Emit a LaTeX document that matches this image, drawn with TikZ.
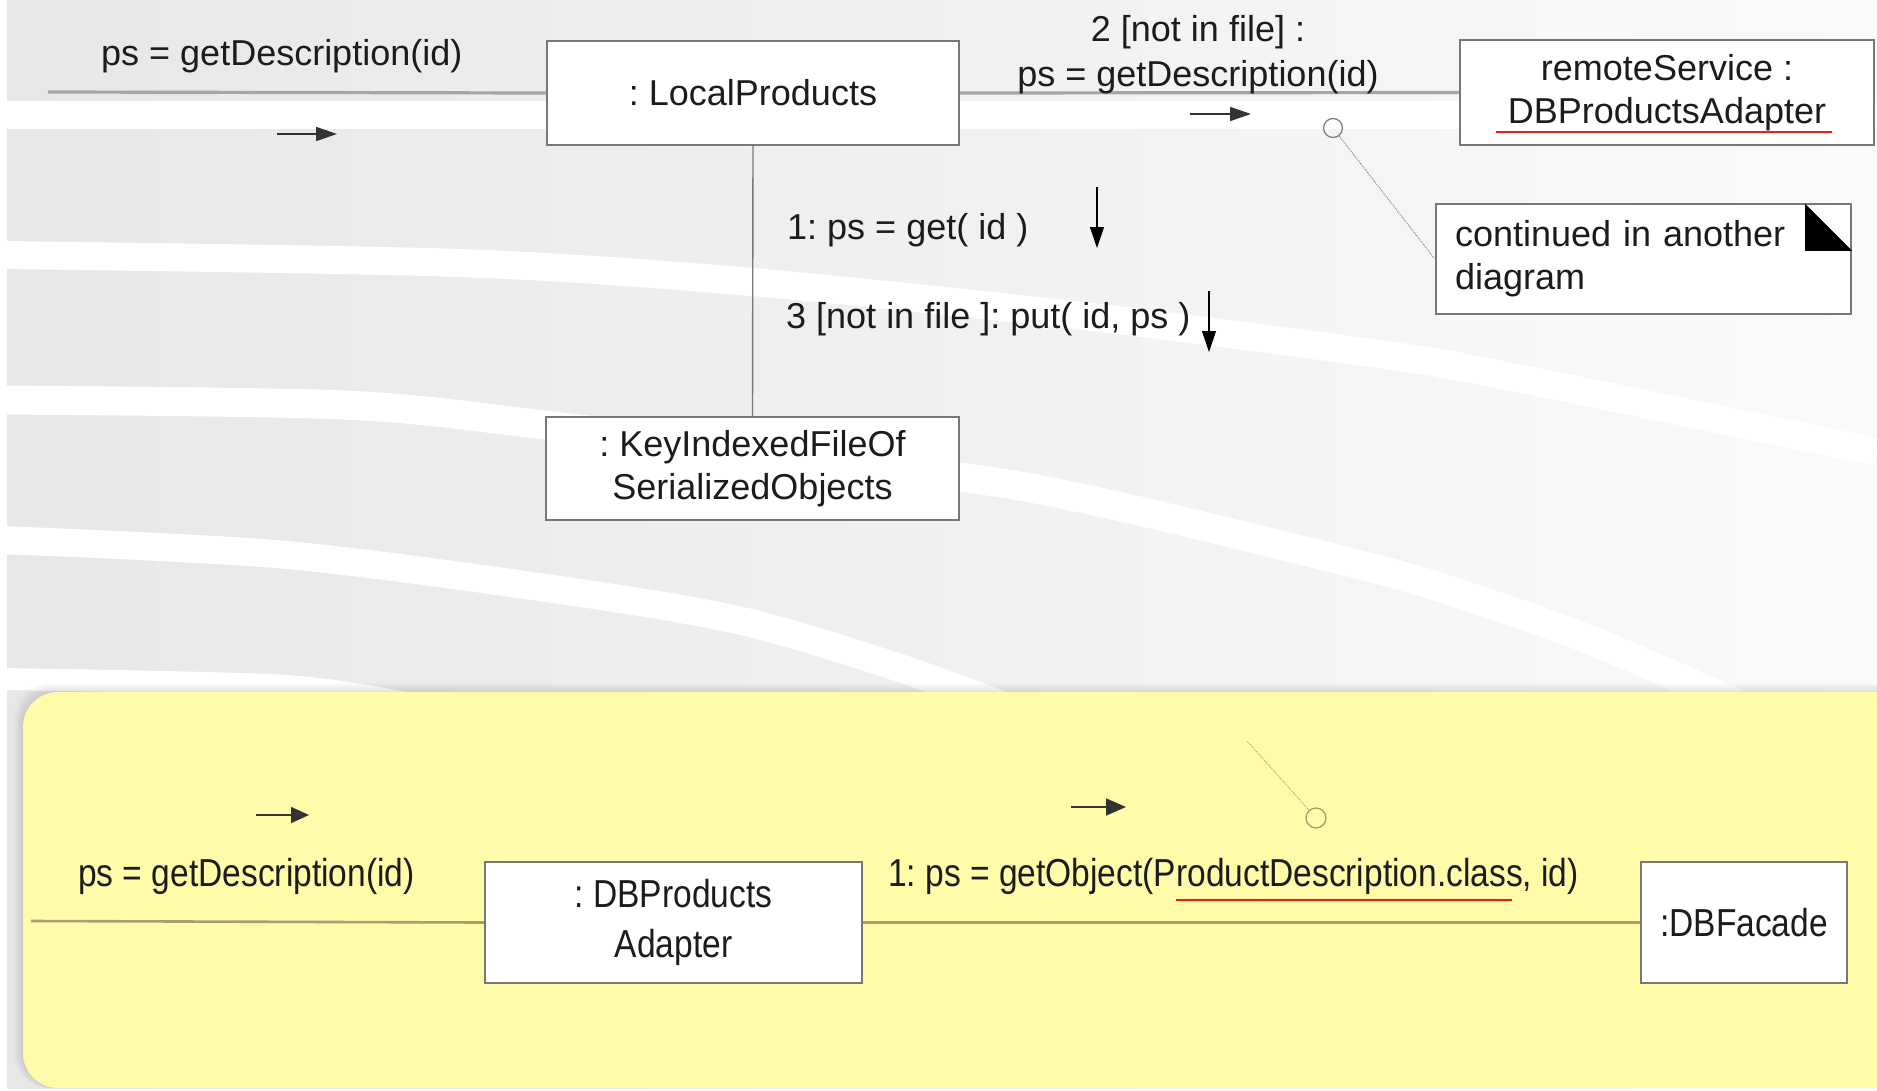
\documentclass[tikz,border=0pt]{standalone}
\usepackage{fontspec}
\setmainfont{Liberation Sans}
\newfontfamily\condfont[FakeStretch=0.86]{Liberation Sans}
\usetikzlibrary{arrows.meta,calc}
\definecolor{bgL}{RGB}{231,231,231}
\definecolor{bgR}{RGB}{250,250,250}
\definecolor{panel}{RGB}{255,251,168}
\definecolor{boxline}{RGB}{120,120,120}
\definecolor{conn}{RGB}{165,165,165}
\definecolor{yline}{RGB}{165,160,110}
\definecolor{txt}{RGB}{28,28,28}
\definecolor{ured}{RGB}{235,30,20}
\begin{document}
\frenchspacing
\begin{tikzpicture}[x=1pt,y=-1pt,
  topfont/.style={font=\fontsize{36}{43}\selectfont\frenchspacing},
  botfont/.style={font=\condfont\fontsize{39}{50}\selectfont\frenchspacing},
  objbox/.style={draw=boxline, line width=2.4pt, fill=white, inner sep=0pt, align=center, text=txt},
  lbl/.style={inner sep=0pt, text=txt},
  topconn/.style={draw=conn, line width=3.2pt},
  vconn/.style={draw=boxline, line width=1.4pt},
  yconn/.style={draw=yline, line width=2.6pt},
  msgarrow/.style={draw=black!80, line width=1.6pt, -{Triangle[length=21pt,width=14pt]}},
  downarrow/.style={draw=black, line width=1.1pt, -{Triangle[length=21pt,width=14pt]}},
  stripe/.style={draw=white, line width=28pt},
  graycircle/.style={circle, draw=gray, line width=1.3pt, minimum size=19pt, inner sep=0pt},
  olivecircle/.style={circle, draw=yline, line width=1.3pt, minimum size=20pt, inner sep=0pt},
  notelink/.style={draw=gray, line width=0.9pt, densely dotted},
  ulined/.style={draw=ured, line width=2.5pt},
]
\useasboundingbox (0,0) rectangle (1877,1090);
\fill[white] (0,0) rectangle (1877,1090);
% background
\shade[left color=bgL, right color=bgR] (7,0) rectangle (1877,1088);
\begin{scope}
  \clip (7,0) rectangle (1877,1088);
  \draw[stripe] (0,115) -- (1877,115);
  \draw[stripe] plot[smooth] coordinates {(0,255) (459,263) (752,282) (1100,318) (1400,357) (1532,381) (1877,452)};
  \draw[stripe, line width=29pt] plot[smooth] coordinates {(0,400) (344,405) (545,425) (960,477) (1099,502) (1268,542) (1423,582) (1585,638) (1740,705)};
  \draw[stripe] plot[smooth] coordinates {(0,540) (287,555) (574,592) (746,622) (900,668) (1020,712)};
  \draw[stripe, line width=22pt] plot[smooth] coordinates {(0,679) (287,686) (420,706)};
\end{scope}
% panel shadow and panel
\foreach \i in {1,...,9} {
  \fill[black, opacity=0.012, rounded corners=35pt] (23-\i,692-\i) rectangle (1940,1088);
}
\fill[panel, rounded corners=35pt] (23,692) rectangle (1940,1088);

% ---------- upper diagram ----------
\node[objbox, topfont, minimum width=412pt, minimum height=104pt] (local) at (753,93) {: LocalProducts};
\node[objbox, topfont, minimum width=413pt, minimum height=103pt] (key) at (752.5,468.5) {: KeyIndexedFileOf\\SerializedObjects};
\node[objbox, topfont, minimum width=414pt, minimum height=105pt] (remote) at (1667,92.5) {remoteService :\\DBProductsAdapter};
\node[objbox, topfont, minimum height=110pt, text width=377pt, inner xsep=19pt, align=left] (note) at (1643.5,259) {continued in another\\diagram};
\fill[black] ($(note.north east)+(-47,1)$) -- ($(note.north east)+(-47,48)$) -- ($(note.north east)+(0,48)$) -- cycle;

\coordinate (inTop) at (48,92);
\draw[topconn] (inTop) -- (local.west);
\draw[topconn] (local.east) -- (remote.west);
\draw[vconn] (local.south) -- (key.north);

\draw[ulined] (1496,132) -- (1832,132);

\node[lbl, topfont, anchor=base west] (lblA) at (101,65) {ps = getDescription(id)};
\node[lbl, topfont, anchor=base] (lblB1) at (1198,41) {2 [not in file] :};
\node[lbl, topfont, anchor=base] (lblB2) at (1198,86) {ps = getDescription(id)};
\node[lbl, topfont, anchor=base west] (lbl1) at (787,239) {1: ps = get( id )};
\node[lbl, topfont, anchor=base west] (lbl3) at (786,328) {3 [not in file ]: put( id, ps )};

\coordinate (a1s) at (277,134); \coordinate (a1e) at (337,134);
\draw[msgarrow] (a1s) -- (a1e);
\coordinate (a2s) at (1190,114); \coordinate (a2e) at (1251,114);
\draw[msgarrow] (a2s) -- (a2e);
\coordinate (d1s) at (1097,187); \coordinate (d1e) at (1097,248);
\draw[downarrow] (d1s) -- (d1e);
\coordinate (d2s) at (1209,291); \coordinate (d2e) at (1209,352);
\draw[downarrow] (d2s) -- (d2e);

\node[graycircle] (c1) at (1333,128) {};
\draw[notelink] (c1) -- (note.west);

% ---------- lower diagram ----------
\node[objbox, botfont, minimum width=377pt, minimum height=121pt] (dbp) at (673.5,922.5) {: DBProducts\\Adapter};
\node[objbox, botfont, minimum width=206pt, minimum height=121pt] (facade) at (1744,922.5) {:DBFacade};

\coordinate (inBot) at (31,921);
\draw[yconn] (inBot) -- (dbp.west);
\draw[yconn] (dbp.east) -- (facade.west);

\node[lbl, botfont, anchor=base west] (lblC) at (78,886) {ps = getDescription(id)};
\node[lbl, botfont, anchor=base west] (lblD) at (888,886) {1: ps = getObject(ProductDescription.class, id)};
\draw[ulined] (1176,900) -- (1512,900);

\coordinate (b1s) at (256,815); \coordinate (b1e) at (309,815);
\draw[msgarrow, -{Triangle[length=18pt,width=16pt]}] (b1s) -- (b1e);
\coordinate (b2s) at (1071,807); \coordinate (b2e) at (1126,807);
\draw[msgarrow, -{Triangle[length=20pt,width=17pt]}] (b2s) -- (b2e);

\node[olivecircle] (c2) at (1316,818) {};
\coordinate (tail2) at (1247,741);
\draw[notelink, draw=yline] (c2) -- (tail2);
\end{tikzpicture}
\end{document}
